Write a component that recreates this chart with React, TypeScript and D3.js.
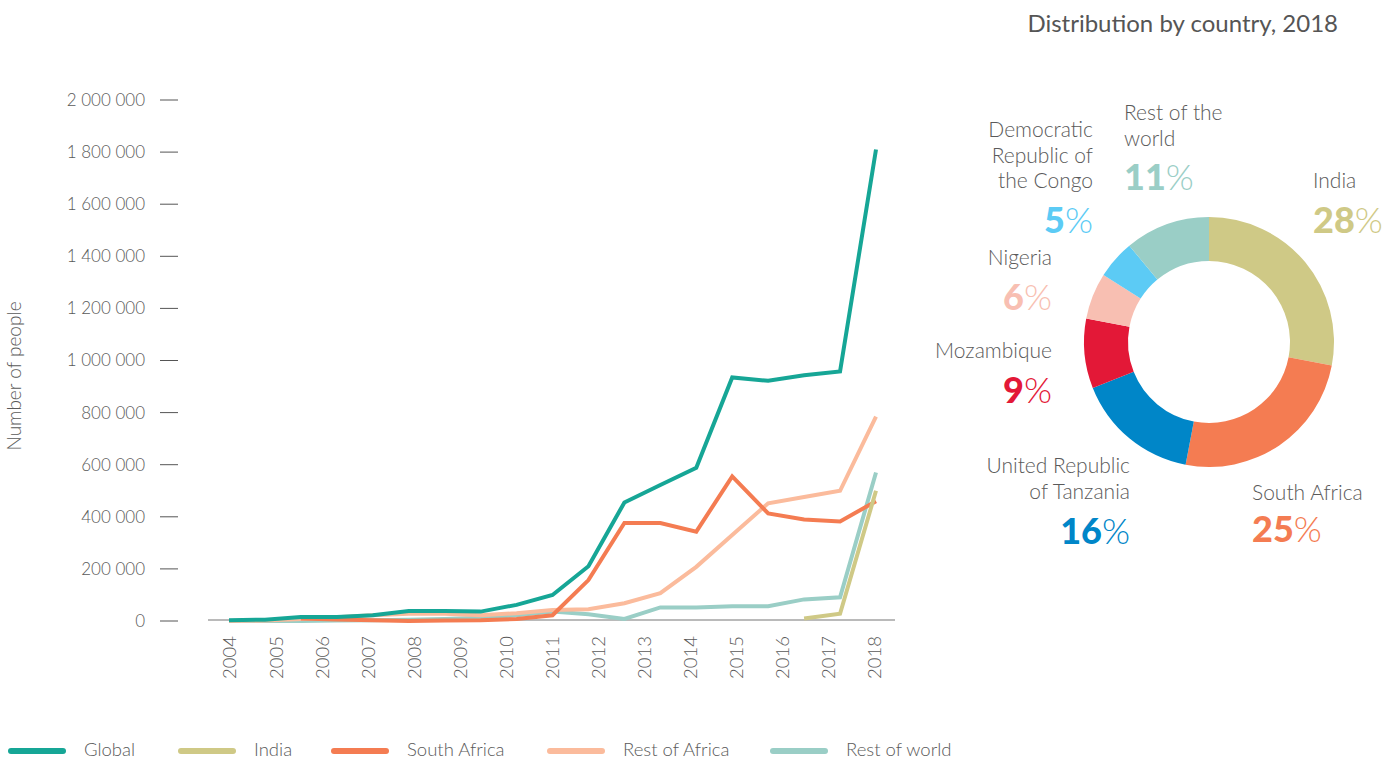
import React from "react";
import * as d3 from "d3";

// ---- Data ----
const years = [2004, 2005, 2006, 2007, 2008, 2009, 2010, 2011, 2012, 2013, 2014, 2015, 2016, 2017, 2018];
const yTicks = [0, 200000, 400000, 600000, 800000, 1000000, 1200000, 1400000, 1600000, 1800000, 2000000];

// 19 equally spaced observations spanning 2004–2018
const globalVals = [3000, 5000, 15000, 15000, 22000, 38000, 38000, 36000, 62000, 100000, 210000, 455000, 522000, 588000, 935000, 922000, 943000, 958000, 1810000];
const indiaVals: (number | null)[] = [null, null, null, null, null, null, null, null, null, null, null, null, null, null, null, null, 10000, 28000, 500000];
const southAfricaVals: (number | null)[] = [null, null, 10000, 6000, 3000, 0, 2000, 3000, 8000, 22000, 157000, 376000, 376000, 343000, 555000, 413000, 390000, 382000, 460000];
const restAfricaVals = [0, 2000, 8000, 14000, 22000, 28000, 28000, 22000, 30000, 42000, 45000, 68000, 107000, 208000, 330000, 452000, 476000, 500000, 785000];
const restWorldVals = [0, 0, 0, 2000, 3000, 5000, 8000, 12000, 22000, 36000, 26000, 8000, 52000, 52000, 57000, 57000, 83000, 91000, 570000];

const seriesNames = ["Global", "India", "South Africa", "Rest of Africa", "Rest of world"];
const seriesColors = ["#16a696", "#cfc986", "#f47c52", "#fbbb9c", "#9acec6"];
const seriesData = [globalVals, indiaVals, southAfricaVals, restAfricaVals, restWorldVals];

const donutLabels = ["India", "South Africa", "United Republic of Tanzania", "Mozambique", "Nigeria", "Democratic Republic of the Congo", "Rest of the world"];
const donutValues = [28, 25, 16, 9, 6, 5, 11];
const donutColors = ["#cfc986", "#f47c52", "#0086c8", "#e31837", "#f8bfb2", "#5ccbf5", "#9acec6"];

const FONT = "Lato, 'Open Sans', sans-serif";
const GRAY = "#5a5a5a";

export default function App() {
  // line chart scales
  const x = d3.scaleLinear().domain([0, globalVals.length - 1]).range([229, 876]);
  const xYear = d3.scalePoint<number>().domain(years).range([230, 875]);
  const y = d3.scaleLinear().domain([0, 2000000]).range([621, 100]);

  const line = d3
    .line<number | null>()
    .defined((d) => d !== null)
    .x((_, i) => x(i))
    .y((d) => y(d as number));

  // donut
  const cx = 1209;
  const cy = 342;
  const pie = d3.pie<number>().sort(null).value((d) => d);
  const arcs = pie(donutValues);
  const arc = d3.arc<d3.PieArcDatum<number>>().innerRadius(81).outerRadius(125);

  // label layout for donut (anchor, x, name baselines, pct baseline)
  const labelLayout = [
    { anchor: "start", x: 1313, lines: ["India"], y0: 188, pctY: 233 },
    { anchor: "start", x: 1252, lines: ["South Africa"], y0: 500, pctY: 542 },
    { anchor: "end", x: 1130, lines: ["United Republic", "of Tanzania"], y0: 473, pctY: 544 },
    { anchor: "end", x: 1052, lines: ["Mozambique"], y0: 358, pctY: 403 },
    { anchor: "end", x: 1052, lines: ["Nigeria"], y0: 265, pctY: 310 },
    { anchor: "end", x: 1093, lines: ["Democratic", "Republic of", "the Congo"], y0: 137, pctY: 233 },
    { anchor: "start", x: 1124, lines: ["Rest of the", "world"], y0: 120, pctY: 190 },
  ];

  const legendX = [8, 178, 331, 547, 770];

  return (
    <svg width={1384} height={760} style={{ position: "absolute", left: 0, top: 0, fontFamily: FONT }}>
      <rect width={1384} height={760} fill="#fff" />

      {/* Y axis label */}
      <text
        transform={`translate(21,376) rotate(-90)`}
        textAnchor="middle"
        fontSize={19}
        fontWeight={300}
        fill={GRAY}
      >
        Number of people
      </text>

      {/* Y ticks */}
      {yTicks.map((t) => (
        <g key={t}>
          <line x1={160} x2={178} y1={y(t)} y2={y(t)} stroke="#555" strokeWidth={1} />
          <text x={145} y={y(t)} dy="0.35em" textAnchor="end" fontSize={17} fontWeight={300} fill={GRAY}>
            {t === 0 ? "0" : d3.format(",")(t).replace(/,/g, " ")}
          </text>
        </g>
      ))}

      {/* baseline */}
      <line x1={208} x2={895} y1={y(0) - 1} y2={y(0) - 1} stroke="#777" strokeWidth={1.2} />

      {/* X labels */}
      {years.map((yr) => (
        <text
          key={yr}
          transform={`translate(${xYear(yr)},636) rotate(-90)`}
          textAnchor="end"
          dy="0.35em"
          fontSize={18.5}
          fontWeight={300}
          fill={GRAY}
        >
          {yr}
        </text>
      ))}

      {/* Lines (draw background series first, global last) */}
      {[4, 3, 2, 1, 0].map((si) => (
        <path
          key={si}
          d={line(seriesData[si] as (number | null)[]) || ""}
          fill="none"
          stroke={seriesColors[si]}
          strokeWidth={4}
          strokeLinejoin="miter"
        />
      ))}

      {/* Legend */}
      {seriesNames.map((n, i) => (
        <g key={n}>
          <line
            x1={legendX[i] + 3}
            x2={legendX[i] + 55}
            y1={751}
            y2={751}
            stroke={seriesColors[i]}
            strokeWidth={6}
            strokeLinecap="round"
          />
          <text x={legendX[i] + 76} y={750} dy="0.35em" fontSize={18.5} fontWeight={300} fill={GRAY}>
            {n}
          </text>
        </g>
      ))}

      {/* Donut title */}
      <text x={1338} y={32} textAnchor="end" fontSize={24} fill="#555">
        Distribution by country, 2018
      </text>

      {/* Donut */}
      <g transform={`translate(${cx},${cy})`}>
        {arcs.map((a, i) => (
          <path key={i} d={arc(a) || ""} fill={donutColors[i]} />
        ))}
      </g>

      {/* Donut labels */}
      {labelLayout.map((l, i) => (
        <g key={i}>
          {l.lines.map((ln, j) => (
            <text
              key={j}
              x={l.x}
              y={l.y0 + j * 25.5}
              textAnchor={l.anchor as any}
              fontSize={21}
              fontWeight={300}
              fill={GRAY}
            >
              {ln}
            </text>
          ))}
          <text x={l.x} y={l.pctY} textAnchor={l.anchor as any} fontSize={36} fill={donutColors[i]}>
            <tspan fontWeight={900}>{donutValues[i]}</tspan>
            <tspan fontWeight={300}>%</tspan>
          </text>
        </g>
      ))}
    </svg>
  );
}
